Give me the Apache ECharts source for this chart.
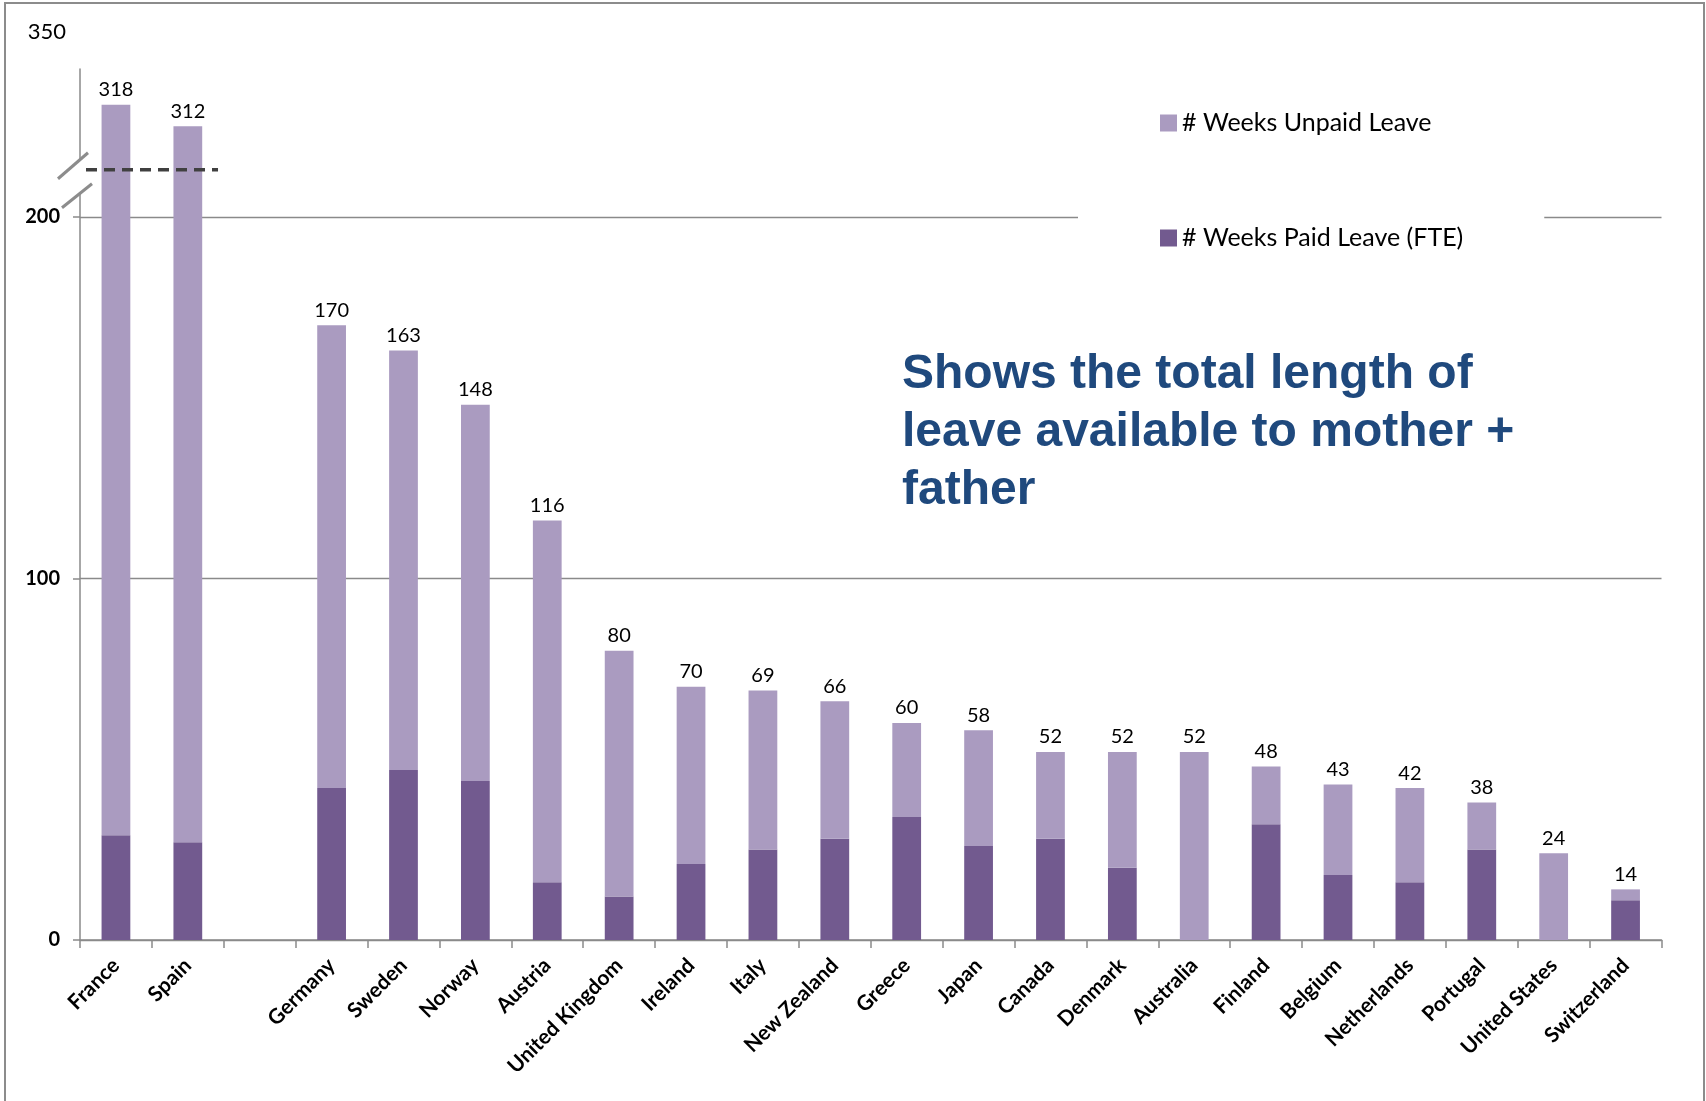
<!DOCTYPE html>
<html>
<head>
<meta charset="utf-8">
<script src="https://cdn.jsdelivr.net/npm/echarts@6/dist/echarts.min.js"></script>
<style>
html,body{margin:0;padding:0;background:#fff;}
#chart{width:1706px;height:1101px;}
</style>
</head>
<body>
<div id="chart"></div>
<script>
// ---- data ----
const categories = ['France','Spain','','Germany','Sweden','Norway','Austria','United Kingdom','Ireland','Italy','New Zealand','Greece','Japan','Canada','Denmark','Australia','Finland','Belgium','Netherlands','Portugal','United States','Switzerland'];
const totals = [318, 312, null, 170, 163, 148, 116, 80, 70, 69, 66, 60, 58, 52, 52, 52, 48, 43, 42, 38, 24, 14];
const paidWeeks = [29, 27, null, 42, 47, 44, 16, 12, 21, 25, 28, 34, 26, 28, 20, 0, 32, 18, 16, 25, 0, 11];
const unpaidWeeks = [289, 285, null, 128, 116, 104, 100, 68, 49, 44, 38, 26, 32, 24, 32, 52, 16, 25, 26, 13, 24, 3];
const yTickLabels = [0, 100, 200];
const axisBreak = { start: 213, end: 300 };
const yMax = 328;
const annotation = 'Shows the total length of\nleave available to mother +\nfather';
const seriesNames = { unpaid: '# Weeks Unpaid Leave', paid: '# Weeks Paid Leave (FTE)' };

const chart = echarts.init(document.getElementById('chart'), null, { renderer: 'canvas' });
const FONT = 'Lato';
const option = {
  animation: false,
  backgroundColor: '#fff',
  grid: { left: 80, right: 44.5, top: 68.5, bottom: 161, containLabel: false },
  legend: {
    orient: 'vertical',
    left: 1078, top: 90,
    data: [seriesNames.unpaid, seriesNames.paid],
    backgroundColor: '#fff',
    padding: [20, 81, 20, 82],
    itemGap: 89,
    itemWidth: 17, itemHeight: 17,
    icon: 'rect',
    textStyle: { fontFamily: FONT, fontSize: 25, color: '#000', lineHeight: 26 },
    z: 10
  },
  xAxis: {
    type: 'category',
    data: categories,
    axisLine: { lineStyle: { color: '#8a8a8a', width: 1.5 } },
    axisTick: { show: true, length: 8, alignWithLabel: false, lineStyle: { color: '#8a8a8a', width: 1.5 } },
    axisLabel: { interval: 0, rotate: 45, margin: 22, fontFamily: FONT, fontWeight: 'bold', fontSize: 21, color: '#000' },
    splitLine: { show: false }
  },
  yAxis: {
    type: 'value',
    min: 0, max: yMax, interval: 100,
    breaks: [{ start: axisBreak.start, end: axisBreak.end, gap: 0 }],
    breakArea: { show: false },
    name: '350',
    nameLocation: 'end',
    nameGap: 26,
    nameTextStyle: { fontFamily: FONT, fontSize: 22, color: '#000', align: 'right', padding: [0, 14, 0, 0] },
    axisLine: { show: true, lineStyle: { color: '#8a8a8a', width: 1.5 } },
    axisTick: { show: true, length: 7, customValues: yTickLabels, lineStyle: { color: '#8a8a8a', width: 1.5 } },
    axisLabel: {
      margin: 20, fontFamily: FONT, fontWeight: 'bold', fontSize: 20, color: '#000',
      customValues: yTickLabels,
      formatter: v => (yTickLabels.indexOf(v) >= 0 ? String(v) : '')
    },
    splitLine: { show: true, lineStyle: { color: '#8a8a8a', width: 1.3 } }
  },
  series: [
    {
      name: seriesNames.paid, type: 'bar', stack: 'leave', barWidth: '40%',
      data: paidWeeks,
      itemStyle: { color: '#725A8F' }
    },
    {
      name: seriesNames.unpaid, type: 'bar', stack: 'leave', barWidth: '40%',
      data: unpaidWeeks,
      itemStyle: { color: '#AA9BC0' },
      label: {
        show: true, position: 'top', distance: 5,
        fontFamily: FONT, fontSize: 20, color: '#000',
        formatter: p => (totals[p.dataIndex] == null ? '' : String(totals[p.dataIndex]))
      }
    }
  ]
};
chart.setOption(option);

// decorations derived from axis scale
const c0 = chart.convertToPixel({ xAxisIndex: 0 }, 0);
const catW = chart.convertToPixel({ xAxisIndex: 0 }, 1) - c0;
const axisX = c0 - catW / 2;
const breakY = chart.convertToPixel({ yAxisIndex: 0 }, axisBreak.start);
const spainX = chart.convertToPixel({ xAxisIndex: 0 }, 1);

chart.setOption({
  graphic: [
    { type: 'rect', silent: true, z: 100, shape: { x: 5, y: 3, width: 1699, height: 1120 },
      style: { fill: 'none', stroke: '#8c8c8c', lineWidth: 2 } },
    { type: 'polygon', silent: true, z: 101,
      shape: { points: [[axisX - 22, breakY + 9], [axisX + 8, breakY - 17], [axisX + 12, breakY + 14], [axisX - 18, breakY + 38]] },
      style: { fill: '#fff', stroke: null } },
    { type: 'line', silent: true, z: 102, shape: { x1: axisX - 22, y1: breakY + 9, x2: axisX + 8, y2: breakY - 17 },
      style: { stroke: '#8c8c8c', lineWidth: 3 } },
    { type: 'line', silent: true, z: 102, shape: { x1: axisX - 18, y1: breakY + 38, x2: axisX + 12, y2: breakY + 14 },
      style: { stroke: '#8c8c8c', lineWidth: 3 } },
    { type: 'line', silent: true, z: 103, shape: { x1: axisX + 6, y1: breakY, x2: spainX + catW * 0.42, y2: breakY },
      style: { stroke: '#404040', lineWidth: 3.5, lineDash: [11, 7] } },
    { type: 'text', silent: true, z: 104, left: 902, top: 346,
      style: { text: annotation, font: 'bold 48px "Liberation Sans", Arial, sans-serif', fill: '#1F497D', lineHeight: 58 } }
  ]
});
</script>
</body>
</html>
